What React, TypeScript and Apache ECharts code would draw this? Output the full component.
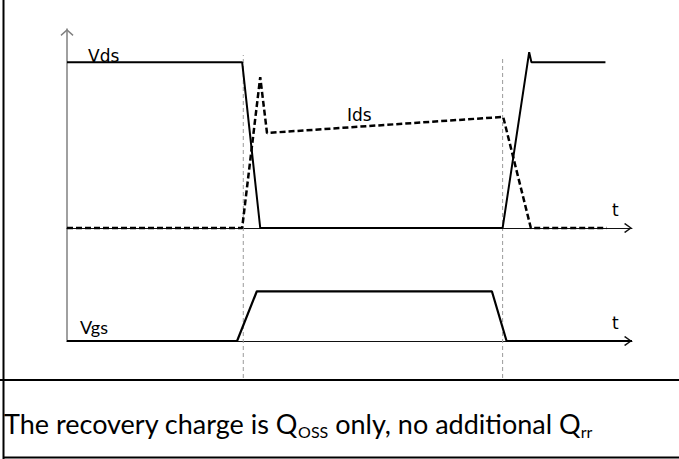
import React, { useEffect, useRef } from "react";
import * as echarts from "echarts";

// time axis (arbitrary time units)
const timeMin = 0;
const timeMax = 100;
// upper panel (drain-source) value range, lower panel (gate) value range
const upperRange = [0, 120];
const lowerRange = [0, 20];

// Vds waveform
const vdsTime = [0, 31.0, 34.2, 77.1, 81.8, 82.2, 95.3];
const vdsValue = [100, 100, 0, 0, 106, 100, 100];
// Ids waveform
const idsTime = [0, 31.0, 34.2, 35.4, 77.2, 82.1, 95.5];
const idsValue = [0, 0, 91, 57.3, 67, 0, 0];
// Vgs waveform
const vgsTime = [0, 30.1, 33.6, 75.2, 77.8, 100];
const vgsValue = [0, 0, 8.8, 8.8, 0, 0];
// switching instants (vertical guides) and their extents (0..1 of guide band)
const switchTimes = [31.2, 77.1];
const guideTop = [1, 0.99];

const labels = { vds: "Vds", ids: "Ids", vgs: "Vgs", t: "t" };
const caption = ["The recovery charge is Q", "OSS", " only, no additional Q", "rr"];

const zip = (xs: number[], ys: number[]) => xs.map((x, i) => [x, ys[i]]);

const arrowX = "path://M50,0 L100,68 L91,80 L50,22 L9,80 L0,68 Z";
const arrowY = "path://M65,0 L130,58 L121,70 L65,20 L9,70 L0,58 Z";

export default function App() {
  const ref = useRef<HTMLDivElement>(null);
  useEffect(() => {
    if (!ref.current) return;
    const chart = echarts.init(ref.current, null, { renderer: "svg" });
    const hidden = {
      axisLabel: { show: false },
      axisTick: { show: false },
      splitLine: { show: false },
    };
    const xAxisBase = (gridIndex: number, show: boolean) => ({
      type: "value",
      gridIndex,
      min: timeMin,
      max: timeMax,
      ...hidden,
      axisLine: show
        ? {
            show: true,
            onZero: false,
            symbol: ["none", arrowX],
            symbolSize: [10, 8],
            symbolOffset: [0, -4],
            lineStyle: { color: "#111", width: 1 },
          }
        : { show: false },
    });
    const option: any = {
      animation: false,
      backgroundColor: "#fff",
      grid: [
        { left: 67, top: 29, width: 565, height: 199, outerBoundsMode: "none" },
        { left: 67, top: 228, width: 565, height: 113, outerBoundsMode: "none" },
        { left: 67, top: 55, width: 565, height: 323, outerBoundsMode: "none" },
      ],
      xAxis: [xAxisBase(0, true), xAxisBase(1, true), xAxisBase(2, false)],
      yAxis: [
        {
          type: "value",
          gridIndex: 0,
          min: upperRange[0],
          max: upperRange[1],
          ...hidden,
          axisLine: {
            show: true,
            onZero: false,
            symbol: ["none", arrowY],
            symbolSize: [13, 7],
            symbolOffset: [0, -3.5],
            lineStyle: { color: "#808080", width: 1.5 },
          },
        },
        {
          type: "value",
          gridIndex: 1,
          min: lowerRange[0],
          max: lowerRange[1],
          ...hidden,
          axisLine: { show: true, onZero: false, lineStyle: { color: "#808080", width: 1.5 } },
        },
        { type: "value", gridIndex: 2, min: 0, max: 1, ...hidden, axisLine: { show: false } },
      ],
      series: [
        ...switchTimes.map((t, i) => ({
          type: "line",
          xAxisIndex: 2,
          yAxisIndex: 2,
          data: [
            [t, 0],
            [t, guideTop[i]],
          ],
          symbol: "none",
          silent: true,
          z: 1,
          lineStyle: { color: "#9a9a9a", width: 1, type: [4, 3] },
        })),
        {
          type: "line",
          name: "Ids",
          xAxisIndex: 0,
          yAxisIndex: 0,
          data: zip(idsTime, idsValue),
          symbol: "none",
          clip: false,
          z: 3,
          lineStyle: { color: "#000", width: 2.5, type: [6, 3] },
        },
        {
          type: "line",
          name: "Vds",
          xAxisIndex: 0,
          yAxisIndex: 0,
          data: zip(vdsTime, vdsValue),
          symbol: "none",
          clip: false,
          z: 4,
          lineStyle: { color: "#000", width: 2 },
        },
        {
          type: "line",
          name: "Vgs",
          xAxisIndex: 1,
          yAxisIndex: 1,
          data: zip(vgsTime, vgsValue),
          symbol: "none",
          clip: false,
          z: 4,
          lineStyle: { color: "#000", width: 2.2 },
        },
      ],
      graphic: [
        { type: "line", shape: { x1: 3.5, y1: 0, x2: 3.5, y2: 459 }, style: { stroke: "#000", lineWidth: 2 } },
        { type: "line", shape: { x1: 0, y1: 380, x2: 679, y2: 380 }, style: { stroke: "#000", lineWidth: 2 } },
        { type: "line", shape: { x1: 3, y1: 457.5, x2: 679, y2: 457.5 }, style: { stroke: "#000", lineWidth: 2 } },
        {
          type: "text",
          x: 88,
          y: 56,
          style: { text: labels.vds, fontSize: 17, fontFamily: "DejaVu Sans", fill: "#000", verticalAlign: "middle" },
        },
        {
          type: "text",
          x: 347,
          y: 115,
          style: { text: labels.ids, fontSize: 17, fontFamily: "DejaVu Sans", fill: "#000", verticalAlign: "middle" },
        },
        {
          type: "text",
          x: 612,
          y: 210,
          style: { text: labels.t, fontSize: 17, fontFamily: "DejaVu Sans", fill: "#000", verticalAlign: "middle" },
        },
        {
          type: "text",
          x: 612,
          y: 323,
          style: { text: labels.t, fontSize: 17, fontFamily: "DejaVu Sans", fill: "#000", verticalAlign: "middle" },
        },
        {
          type: "text",
          x: 80,
          y: 327,
          style: { text: labels.vgs, fontSize: 18, fontFamily: "Lato", fill: "#000", verticalAlign: "middle" },
        },
        {
          type: "text",
          x: 4,
          y: 423,
          style: {
            text: `{a|${caption[0]}}{s|${caption[1]}}{a|${caption[2]}}{s|${caption[3]}}`,
            verticalAlign: "middle",
            rich: {
              a: { fontSize: 27, fontFamily: "Lato", fill: "#000", lineHeight: 32 },
              s: { fontSize: 16, fontFamily: "Lato", fill: "#000", lineHeight: 22, verticalAlign: "bottom" },
            },
          },
        },
      ],
    };
    chart.setOption(option);
    return () => chart.dispose();
  }, []);
  return <div ref={ref} style={{ width: 679, height: 459, position: "absolute", left: 0, top: 0 }} />;
}
